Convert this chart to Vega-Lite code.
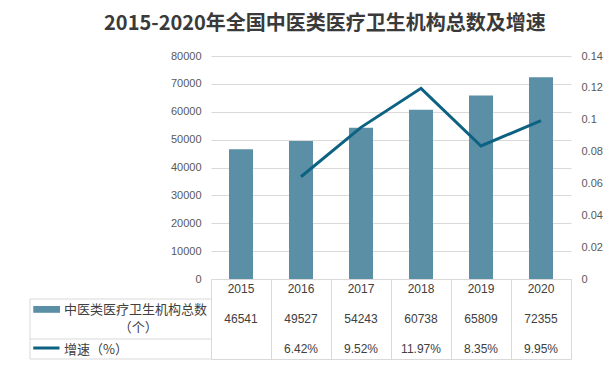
{
  "$schema": "https://vega.github.io/schema/vega-lite/v6.json",
  "padding": {"left": 29, "top": 14, "right": 10, "bottom": 8},
  "title": {"text": "2015-2020年全国中医类医疗卫生机构总数及增速", "font": "Noto Sans CJK SC", "fontSize": 20, "fontWeight": "bold", "color": "#3A3A3A", "anchor": "middle", "dx": 9, "offset": 16},
  "datasets": {
    "main": [
      {"year": "2015", "count": 46541, "growth": null},
      {"year": "2016", "count": 49527, "growth": 0.0642},
      {"year": "2017", "count": 54243, "growth": 0.0952},
      {"year": "2018", "count": 60738, "growth": 0.1197},
      {"year": "2019", "count": 65809, "growth": 0.0835},
      {"year": "2020", "count": 72355, "growth": 0.0995}
    ]
  },
  "columns": 2,
  "spacing": 0,
  "bounds": "flush",
  "config": {
    "view": {"stroke": null},
    "axis": {"labelFont": "Liberation Sans", "labelFontSize": 11, "labelColor": "#595959"}
  },
  "concat": [
    {
      "width": 181, "height": 223,
      "data": {"values": []},
      "mark": "text",
      "encoding": {}
    },
    {
      "width": 360, "height": 223,
      "data": {"name": "main"},
      "encoding": {
        "x": {"field": "year", "type": "ordinal", "scale": {"paddingInner": 0.6, "paddingOuter": 0.3}, "axis": null}
      },
      "layer": [
        {
          "mark": {"type": "bar", "color": "#5B8FA6"},
          "encoding": {
            "y": {"field": "count", "type": "quantitative", "scale": {"domain": [0, 80000]},
              "axis": {"values": [0, 10000, 20000, 30000, 40000, 50000, 60000, 70000, 80000], "format": "d", "grid": true, "gridColor": "#D9D9D9", "domain": false, "ticks": false, "labelPadding": 10, "title": null}}
          }
        },
        {
          "mark": {"type": "line", "color": "#0D6283", "strokeWidth": 3},
          "encoding": {
            "y": {"field": "growth", "type": "quantitative", "scale": {"domain": [0, 0.14]},
              "axis": {"orient": "right", "values": [0, 0.02, 0.04, 0.06, 0.08, 0.1, 0.12, 0.14], "format": "~g", "grid": false, "domain": false, "ticks": false, "labelPadding": 10, "title": null}}
          }
        }
      ],
      "resolve": {"scale": {"y": "independent"}}
    },
    {
      "width": 181, "height": 80,
      "data": {"values": [{}]},
      "layer": [
        {"mark": {"type": "rule", "color": "#D9D9D9"}, "encoding": {"y": {"datum": 1, "type": "quantitative", "scale": {"domain": [0, 4], "reverse": true}, "axis": null}}},
        {"mark": {"type": "rule", "color": "#D9D9D9"}, "encoding": {"y": {"datum": 3, "type": "quantitative", "scale": {"domain": [0, 4], "reverse": true}, "axis": null}}},
        {"mark": {"type": "rule", "color": "#D9D9D9"}, "encoding": {"y": {"datum": 4, "type": "quantitative", "scale": {"domain": [0, 4], "reverse": true}, "axis": null}}},
        {"mark": {"type": "rule", "color": "#D9D9D9"}, "encoding": {
          "x": {"datum": 0, "type": "quantitative", "scale": {"domain": [0, 100]}, "axis": null},
          "y": {"datum": 1, "type": "quantitative", "scale": {"domain": [0, 4], "reverse": true}, "axis": null},
          "y2": {"datum": 4}}},
        {"mark": {"type": "rect", "color": "#5B8FA6"}, "encoding": {
          "x": {"datum": 1.8, "type": "quantitative", "scale": {"domain": [0, 100]}, "axis": null},
          "x2": {"datum": 16.6},
          "y": {"datum": 1.35, "type": "quantitative", "scale": {"domain": [0, 4], "reverse": true}, "axis": null},
          "y2": {"datum": 1.69}}},
        {"mark": {"type": "rule", "color": "#0D6283", "strokeWidth": 3}, "encoding": {
          "x": {"datum": 1.8, "type": "quantitative", "scale": {"domain": [0, 100]}, "axis": null},
          "x2": {"datum": 16.3},
          "y": {"datum": 3.45, "type": "quantitative", "scale": {"domain": [0, 4], "reverse": true}, "axis": null}}},
        {"mark": {"type": "text", "align": "left", "baseline": "middle", "text": "中医类医疗卫生机构总数", "font": "Noto Sans CJK SC", "fontSize": 13, "color": "#404040"}, "encoding": {
          "x": {"datum": 18.8, "type": "quantitative", "scale": {"domain": [0, 100]}, "axis": null},
          "y": {"datum": 1.55, "type": "quantitative", "scale": {"domain": [0, 4], "reverse": true}, "axis": null}}},
        {"mark": {"type": "text", "align": "center", "baseline": "middle", "text": "（个）", "font": "Noto Sans CJK SC", "fontSize": 13, "color": "#404040"}, "encoding": {
          "x": {"datum": 59.8, "type": "quantitative", "scale": {"domain": [0, 100]}, "axis": null},
          "y": {"datum": 2.45, "type": "quantitative", "scale": {"domain": [0, 4], "reverse": true}, "axis": null}}},
        {"mark": {"type": "text", "align": "left", "baseline": "middle", "text": "增速（%）", "font": "Noto Sans CJK SC", "fontSize": 13, "color": "#404040"}, "encoding": {
          "x": {"datum": 18.8, "type": "quantitative", "scale": {"domain": [0, 100]}, "axis": null},
          "y": {"datum": 3.55, "type": "quantitative", "scale": {"domain": [0, 4], "reverse": true}, "axis": null}}}
      ]
    },
    {
      "width": 360, "height": 80,
      "data": {"name": "main"},
      "encoding": {
        "x": {"field": "year", "type": "ordinal", "scale": {"paddingInner": 0, "paddingOuter": 0},
          "axis": {"grid": true, "tickBand": "extent", "gridColor": "#D9D9D9", "labels": false, "ticks": false, "domain": false, "title": null}}
      },
      "layer": [
        {"mark": {"type": "text", "font": "Liberation Sans", "fontSize": 12, "color": "#404040", "baseline": "middle"}, "encoding": {
          "text": {"field": "year"},
          "y": {"datum": 0.5, "type": "quantitative", "scale": {"domain": [0, 4], "reverse": true},
            "axis": {"values": [0, 1, 3, 4], "grid": true, "gridColor": "#D9D9D9", "labels": false, "ticks": false, "domain": false, "title": null}}}},
        {"mark": {"type": "text", "font": "Liberation Sans", "fontSize": 12, "color": "#404040", "baseline": "middle"}, "encoding": {
          "text": {"field": "count", "type": "quantitative", "format": "d"},
          "y": {"datum": 2, "type": "quantitative", "scale": {"domain": [0, 4], "reverse": true}}}},
        {"transform": [{"filter": "datum.growth != null"}],
          "mark": {"type": "text", "font": "Liberation Sans", "fontSize": 12, "color": "#404040", "baseline": "middle"}, "encoding": {
          "text": {"field": "growth", "type": "quantitative", "format": ".2%"},
          "y": {"datum": 3.5, "type": "quantitative", "scale": {"domain": [0, 4], "reverse": true}}}}
      ]
    }
  ]
}
